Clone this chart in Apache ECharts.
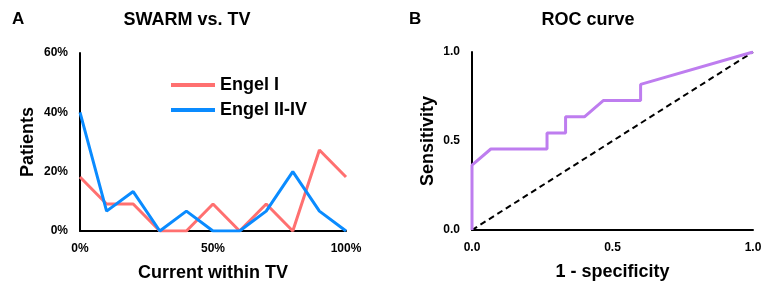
<!DOCTYPE html>
<html>
<head>
<meta charset="utf-8">
<script src="https://cdn.jsdelivr.net/npm/echarts@6/dist/echarts.min.js"></script>
<style>
  html, body { margin: 0; padding: 0; background: #fff; }
  #chart { width: 765px; height: 283px; }
</style>
</head>
<body>
<div id="chart"></div>
<script>
// 面板A：电流分布（%）
const currentPct = [0, 10, 20, 30, 40, 50, 60, 70, 80, 90, 100];
const engelI = [18.2, 9.1, 9.1, 0, 0, 9.1, 0, 9.1, 0, 27.3, 18.2];
const engelIIIV = [40, 6.7, 13.3, 0, 6.7, 0, 0, 6.7, 20, 6.7, 0];
const yTicksA = [0, 20, 40, 60];
const xTicksA = [0, 50, 100];

// 面板B：ROC 曲线
const fpr = [0, 0, 0.067, 0.267, 0.267, 0.333, 0.333, 0.4, 0.467, 0.6, 0.6, 1];
const tpr = [0, 0.364, 0.455, 0.455, 0.545, 0.545, 0.636, 0.636, 0.727, 0.727, 0.818, 1];
const diagX = [0, 1];
const diagY = [0, 1];

const FONT = 'Liberation Sans, Arial, sans-serif';
const zip = (xs, ys) => xs.map((x, i) => [x, ys[i]]);

const axisLine = { show: true, lineStyle: { color: '#000', width: 2 } };
const tickLabel = { color: '#000', fontWeight: 'bold', fontSize: 12, fontFamily: FONT };
const nameStyle = { color: '#000', fontWeight: 'bold', fontSize: 18, fontFamily: FONT };
const titleStyle = { fontSize: 18, fontWeight: 'bold', fontFamily: FONT, color: '#000' };

const chart = echarts.init(document.getElementById('chart'));

const option = {
  backgroundColor: '#fff',
  animation: false,
  title: [
    { text: 'A', left: 7, top: 6, textStyle: { fontSize: 17, fontWeight: 'bold', fontFamily: FONT, color: '#000' } },
    { text: 'SWARM vs. TV', left: 182, top: 6, textAlign: 'center', textStyle: titleStyle },
    { text: 'B', left: 404, top: 6, textStyle: { fontSize: 17, fontWeight: 'bold', fontFamily: FONT, color: '#000' } },
    { text: 'ROC curve', left: 583, top: 6, textAlign: 'center', textStyle: titleStyle }
  ],
  legend: {
    orient: 'vertical',
    left: 166,
    top: 71,
    itemWidth: 44,
    itemHeight: 4,
    itemGap: 7,
    icon: 'rect',
    data: ['Engel I', 'Engel II-IV'],
    textStyle: { color: '#000', fontSize: 18, fontWeight: 'bold', fontFamily: FONT }
  },
  grid: [
    { left: 80, top: 53, width: 266, height: 178, outerBoundsMode: 'none' },
    { left: 472, top: 52, width: 281, height: 178, outerBoundsMode: 'none' }
  ],
  xAxis: [
    {
      gridIndex: 0, type: 'value', min: xTicksA[0], max: xTicksA[xTicksA.length - 1], interval: 50,
      axisLine: axisLine, axisTick: { show: false }, splitLine: { show: false },
      axisLabel: Object.assign({ formatter: '{value}%', margin: 12 }, tickLabel),
      name: 'Current within TV', nameLocation: 'middle', nameGap: 33, nameTextStyle: nameStyle
    },
    {
      gridIndex: 1, type: 'value', min: 0, max: 1, interval: 0.5,
      axisLine: axisLine, axisTick: { show: false }, splitLine: { show: false },
      axisLabel: Object.assign({ formatter: v => v.toFixed(1), margin: 12 }, tickLabel),
      name: '1 - specificity', nameLocation: 'middle', nameGap: 33, nameTextStyle: nameStyle
    }
  ],
  yAxis: [
    {
      gridIndex: 0, type: 'value', min: yTicksA[0], max: yTicksA[yTicksA.length - 1], interval: 20,
      axisLine: axisLine, axisTick: { show: false }, splitLine: { show: false },
      axisLabel: Object.assign({ formatter: '{value}%', margin: 12 }, tickLabel),
      name: 'Patients', nameLocation: 'middle', nameGap: 43, nameTextStyle: nameStyle
    },
    {
      gridIndex: 1, type: 'value', min: 0, max: 1, interval: 0.5,
      axisLine: axisLine, axisTick: { show: false }, splitLine: { show: false },
      axisLabel: Object.assign({ formatter: v => v.toFixed(1), margin: 12 }, tickLabel),
      name: 'Sensitivity', nameLocation: 'middle', nameGap: 35, nameTextStyle: nameStyle
    }
  ],
  series: [
    {
      name: 'Engel I', type: 'line', xAxisIndex: 0, yAxisIndex: 0,
      data: zip(currentPct, engelI), symbol: 'none',
      lineStyle: { color: '#FF7070', width: 3 }, itemStyle: { color: '#FF7070' }
    },
    {
      name: 'Engel II-IV', type: 'line', xAxisIndex: 0, yAxisIndex: 0,
      data: zip(currentPct, engelIIIV), symbol: 'none',
      lineStyle: { color: '#0A8BFF', width: 3 }, itemStyle: { color: '#0A8BFF' }
    },
    {
      name: 'Reference', type: 'line', xAxisIndex: 1, yAxisIndex: 1,
      data: zip(diagX, diagY), symbol: 'none',
      lineStyle: { color: '#000', width: 2, type: [6, 4] }
    },
    {
      name: 'ROC', type: 'line', xAxisIndex: 1, yAxisIndex: 1,
      data: zip(fpr, tpr), symbol: 'none',
      lineStyle: { color: '#BE7DEF', width: 3 }, z: 3
    }
  ]
};

chart.setOption(option);
</script>
</body>
</html>
